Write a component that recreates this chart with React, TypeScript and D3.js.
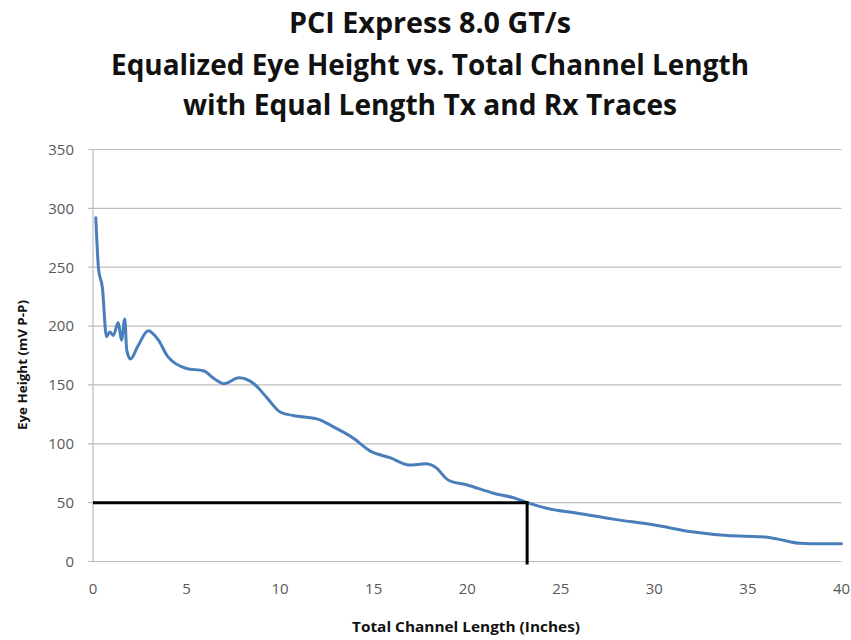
import React from "react";
import * as d3 from "d3";

const titleLines = [
  "PCI Express 8.0 GT/s",
  "Equalized Eye Height vs. Total Channel Length",
  "with Equal Length Tx and Rx Traces",
];
const xTicks = [0, 5, 10, 15, 20, 25, 30, 35, 40];
const yTicks = [0, 50, 100, 150, 200, 250, 300, 350];
const xLabel = "Total Channel Length (Inches)";
const yLabel = "Eye Height (mV P-P)";

const lengthIn = [
  0.15, 0.3, 0.5, 0.72, 0.9, 1.08, 1.35, 1.52, 1.7, 1.8, 2.0, 2.4, 2.95, 3.5,
  4.0, 5.0, 5.9, 6.5, 7.0, 7.8, 8.6, 9.3, 10.0, 10.7, 12.0, 12.9, 13.9, 14.8,
  15.9, 16.9, 17.8, 18.3, 19.0, 20.0, 21.4, 22.5, 23.2, 24.3, 25.9, 27.8, 30.0,
  32.1, 33.9, 35.7, 36.6, 37.8, 38.9, 40.0,
];
const eyeHeight = [
  292, 248, 233, 191, 195, 192, 203, 188, 206, 180, 172, 183, 196, 188, 174,
  164, 162, 155, 151, 156, 151, 139, 127, 124, 121, 114, 105, 94, 88, 82, 83,
  80, 69, 65, 58, 54, 50, 45, 41, 36, 31, 25, 22, 21, 19, 15.5, 15, 15,
];
const markerX = [0, 23.2];
const markerY = 50;

export default function App() {
  const W = 851;
  const H = 640;
  const x = d3.scaleLinear().domain([0, 40]).range([93, 841.5]);
  const y = d3.scaleLinear().domain([0, 350]).range([561.5, 149.5]);
  const pts = lengthIn.map((v, i) => [v, eyeHeight[i]] as [number, number]);
  const line = d3
    .line<[number, number]>()
    .x((d) => x(d[0]))
    .y((d) => y(d[1]))
    .curve(d3.curveMonotoneX);

  const titleLens = [282, 638, 494];
  const titleBase = [33, 75, 115];
  const font = "'Open Sans', 'Liberation Sans', sans-serif";

  return (
    <svg
      width={W}
      height={H}
      style={{ position: "absolute", left: 0, top: 0, background: "#fff" }}
      fontFamily={font}
    >
      <rect width={W} height={H} fill="#fff" />
      {titleLines.map((t, i) => (
        <text
          key={t}
          x={430}
          y={titleBase[i]}
          textAnchor="middle"
          fontWeight="bold"
          fontSize={28}
          fill="#111"
          textLength={titleLens[i]}
          lengthAdjust="spacingAndGlyphs"
        >
          {t}
        </text>
      ))}
      {yTicks.map((t) => (
        <g key={t}>
          <line
            x1={x(0) - 5}
            x2={x(40)}
            y1={y(t)}
            y2={y(t)}
            stroke="#bdbdbd"
            strokeWidth={1.2}
          />
          <text
            x={74}
            y={y(t)}
            dy="0.36em"
            textAnchor="end"
            fontSize={15}
            fill="#595959"
          >
            {t}
          </text>
        </g>
      ))}
      <line
        x1={x(0)}
        x2={x(0)}
        y1={y(350)}
        y2={y(0)}
        stroke="#bdbdbd"
        strokeWidth={1.2}
      />
      {xTicks.map((t) => (
        <text
          key={t}
          x={x(t)}
          y={594}
          textAnchor="middle"
          fontSize={15}
          fill="#595959"
        >
          {t}
        </text>
      ))}
      <path
        d={line(pts) || ""}
        fill="none"
        stroke="#4a7ebb"
        strokeWidth={3}
        strokeLinejoin="round"
        strokeLinecap="round"
      />
      <line
        x1={x(markerX[0])}
        x2={x(markerX[1])}
        y1={y(markerY)}
        y2={y(markerY)}
        stroke="#000"
        strokeWidth={3}
      />
      <line
        x1={x(markerX[1])}
        x2={x(markerX[1])}
        y1={y(markerY) - 1.5}
        y2={y(0) + 3}
        stroke="#000"
        strokeWidth={3}
      />
      <text
        x={466}
        y={632}
        textAnchor="middle"
        fontWeight="bold"
        fontSize={15}
        fill="#111"
        textLength={228}
        lengthAdjust="spacingAndGlyphs"
      >
        {xLabel}
      </text>
      <text
        transform="translate(27,365) rotate(-90)"
        textAnchor="middle"
        fontWeight="bold"
        fontSize={13}
        fill="#111"
        textLength={130}
        lengthAdjust="spacingAndGlyphs"
      >
        {yLabel}
      </text>
    </svg>
  );
}
